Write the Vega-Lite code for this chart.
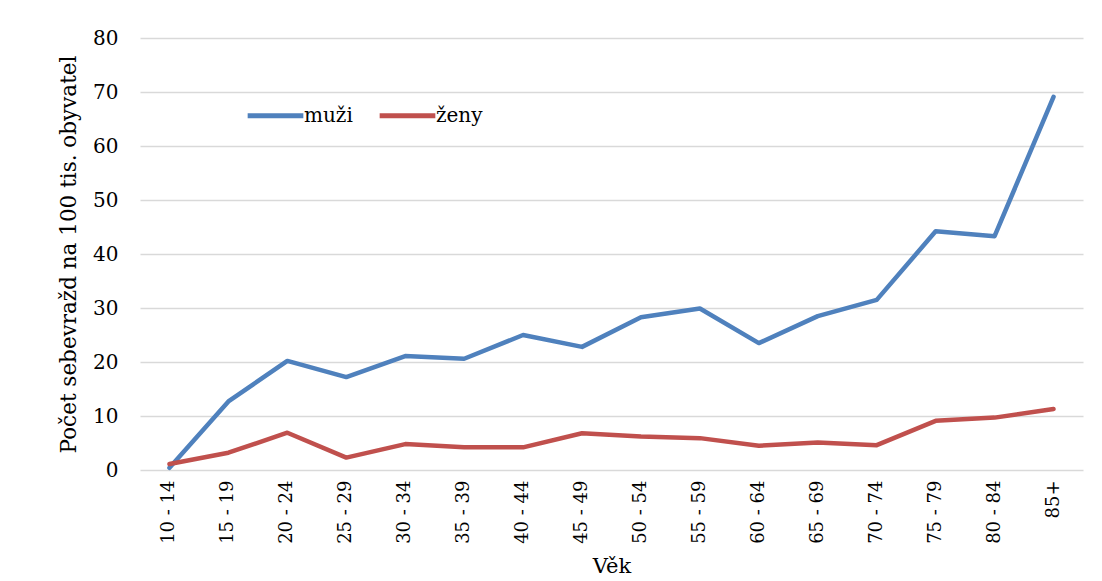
{
  "$schema": "https://vega.github.io/schema/vega-lite/v6.json",
  "autosize": "none",
  "width": 943,
  "height": 432,
  "padding": {"left": 140, "top": 38, "right": 19, "bottom": 111},
  "background": "white",
  "config": {
    "view": {"stroke": null},
    "font": "DejaVu Serif",
    "axis": {"labelFont": "DejaVu Serif", "titleFont": "DejaVu Serif"},
    "legend": {"labelFont": "DejaVu Serif"}
  },
  "data": {
    "values": [
      {"vek": "10 - 14", "pohlavi": "muži", "hodnota": 0.4},
      {"vek": "15 - 19", "pohlavi": "muži", "hodnota": 12.7},
      {"vek": "20 - 24", "pohlavi": "muži", "hodnota": 20.2},
      {"vek": "25 - 29", "pohlavi": "muži", "hodnota": 17.2},
      {"vek": "30 - 34", "pohlavi": "muži", "hodnota": 21.1},
      {"vek": "35 - 39", "pohlavi": "muži", "hodnota": 20.6},
      {"vek": "40 - 44", "pohlavi": "muži", "hodnota": 25.0},
      {"vek": "45 - 49", "pohlavi": "muži", "hodnota": 22.8},
      {"vek": "50 - 54", "pohlavi": "muži", "hodnota": 28.3},
      {"vek": "55 - 59", "pohlavi": "muži", "hodnota": 29.9},
      {"vek": "60 - 64", "pohlavi": "muži", "hodnota": 23.5},
      {"vek": "65 - 69", "pohlavi": "muži", "hodnota": 28.5},
      {"vek": "70 - 74", "pohlavi": "muži", "hodnota": 31.5},
      {"vek": "75 - 79", "pohlavi": "muži", "hodnota": 44.2},
      {"vek": "80 - 84", "pohlavi": "muži", "hodnota": 43.3},
      {"vek": "85+", "pohlavi": "muži", "hodnota": 69.1},
      {"vek": "10 - 14", "pohlavi": "ženy", "hodnota": 1.1},
      {"vek": "15 - 19", "pohlavi": "ženy", "hodnota": 3.2},
      {"vek": "20 - 24", "pohlavi": "ženy", "hodnota": 6.9},
      {"vek": "25 - 29", "pohlavi": "ženy", "hodnota": 2.3},
      {"vek": "30 - 34", "pohlavi": "ženy", "hodnota": 4.8},
      {"vek": "35 - 39", "pohlavi": "ženy", "hodnota": 4.2},
      {"vek": "40 - 44", "pohlavi": "ženy", "hodnota": 4.2},
      {"vek": "45 - 49", "pohlavi": "ženy", "hodnota": 6.8},
      {"vek": "50 - 54", "pohlavi": "ženy", "hodnota": 6.2},
      {"vek": "55 - 59", "pohlavi": "ženy", "hodnota": 5.9},
      {"vek": "60 - 64", "pohlavi": "ženy", "hodnota": 4.5},
      {"vek": "65 - 69", "pohlavi": "ženy", "hodnota": 5.1},
      {"vek": "70 - 74", "pohlavi": "ženy", "hodnota": 4.6},
      {"vek": "75 - 79", "pohlavi": "ženy", "hodnota": 9.1},
      {"vek": "80 - 84", "pohlavi": "ženy", "hodnota": 9.7},
      {"vek": "85+", "pohlavi": "ženy", "hodnota": 11.3}
    ]
  },
  "mark": {"type": "line", "strokeWidth": 4.5, "strokeCap": "round", "strokeJoin": "round"},
  "encoding": {
    "x": {
      "field": "vek",
      "type": "ordinal",
      "sort": null,
      "scale": {"type": "band", "paddingInner": 0, "paddingOuter": 0},
      "axis": {
        "title": "Věk",
        "titleFontSize": 21,
        "titleFontWeight": "normal",
        "titleColor": "black",
        "titlePadding": 12,
        "labelAngle": -90,
        "labelFontSize": 18,
        "labelColor": "black",
        "labelPadding": 10,
        "ticks": false,
        "domain": false,
        "grid": false
      }
    },
    "y": {
      "field": "hodnota",
      "type": "quantitative",
      "scale": {"domain": [0, 80], "nice": false},
      "axis": {
        "title": "Počet sebevražd na 100 tis. obyvatel",
        "titleFontSize": 21.5,
        "titleFontWeight": "normal",
        "titleColor": "black",
        "titlePadding": 12,
        "values": [0, 10, 20, 30, 40, 50, 60, 70, 80],
        "labelFontSize": 20,
        "labelColor": "black",
        "labelPadding": 22,
        "ticks": false,
        "domain": false,
        "grid": true,
        "gridColor": "#d9d9d9",
        "gridWidth": 1.5
      }
    },
    "color": {
      "field": "pohlavi",
      "type": "nominal",
      "scale": {"domain": ["muži", "ženy"], "range": ["#4f81bd", "#c0504d"]},
      "legend": {
        "title": null,
        "orient": "none",
        "legendX": 105,
        "legendY": 47,
        "direction": "horizontal",
        "symbolType": "stroke",
        "symbolStrokeWidth": 5,
        "symbolSize": 3100,
        "labelFontSize": 20,
        "labelColor": "black",
        "labelOffset": -2,
        "columnPadding": 16
      }
    }
  }
}
